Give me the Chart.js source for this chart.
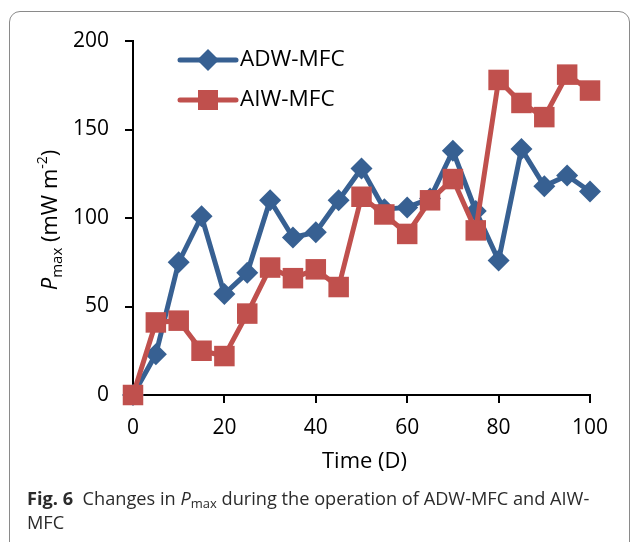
<!DOCTYPE html>
<html>
<head>
<meta charset="utf-8">
<script src="https://cdn.jsdelivr.net/npm/chart.js@4.4.0/dist/chart.umd.min.js"></script>
<style>
  html, body { margin: 0; padding: 0; background: #fff; width: 632px; height: 542px; overflow: hidden; }
  #frame { position: absolute; left: 9px; top: 11px; width: 621px; height: 600px;
           border: 1.5px solid #8a8a8a; border-radius: 11px; box-sizing: border-box; }
  #c { position: absolute; left: 0; top: 0; }
  #cap { position: absolute; left: 27px; top: 486px; width: 600px; color: #2b2b2b;
         font-family: 'Open Sans', sans-serif; font-size: 18.2px; line-height: 24px; }
  #cap b { font-weight: 700; }
  #cap sub { font-size: 13px; vertical-align: -3px; line-height: 0; }
</style>
</head>
<body>
<div id="frame"></div>
<canvas id="c" width="632" height="542"></canvas>
<div id="cap"><b>Fig. 6</b>&nbsp; Changes in <i>P</i><sub>max</sub> during the operation of ADW-MFC and AIW-<br>MFC</div>
<script>
// days of operation
var days = [0, 5, 10, 15, 20, 25, 30, 35, 40, 45, 50, 55, 60, 65, 70, 75, 80, 85, 90, 95, 100];
// Pmax, mW m-2
var adw = [0, 23, 75, 101, 57, 69, 110, 89, 92, 110, 128, 105, 106, 111, 138, 104, 76, 139, 118, 124, 115];
var aiw = [0, 41, 42, 25, 22, 46, 72, 66, 71, 61, 112, 102, 91, 110, 122, 93, 178, 165, 157, 181, 172];
var xTicks = [0, 20, 40, 60, 80, 100];
var yTicks = [0, 50, 100, 150, 200];

var BLUE = '#376092';
var RED = '#c0504d';

function pts(ys) {
  return days.map(function (d, i) { return { x: d, y: ys[i] }; });
}

// legend + axis titles drawn by hand (sub/superscripts, marker on the line)
var extras = {
  id: 'extras',
  afterDraw: function (chart) {
    var ctx = chart.ctx, a = chart.chartArea;
    ctx.save();
    // legend
    var items = [
      { label: 'ADW-MFC', color: BLUE, shape: 'diamond', y: 60 },
      { label: 'AIW-MFC', color: RED, shape: 'square', y: 100 }
    ];
    items.forEach(function (it) {
      ctx.strokeStyle = it.color;
      ctx.lineWidth = 5;
      ctx.lineCap = 'round';
      ctx.beginPath();
      ctx.moveTo(180, it.y);
      ctx.lineTo(236, it.y);
      ctx.stroke();
      ctx.fillStyle = it.color;
      ctx.beginPath();
      if (it.shape === 'diamond') {
        ctx.moveTo(208, it.y - 11); ctx.lineTo(219, it.y); ctx.lineTo(208, it.y + 11); ctx.lineTo(197, it.y);
        ctx.closePath();
      } else {
        ctx.rect(198, it.y - 10, 20, 20);
      }
      ctx.fill();
      ctx.fillStyle = '#000';
      ctx.font = '22.5px "Open Sans"';
      ctx.textBaseline = 'middle';
      ctx.textAlign = 'left';
      ctx.fillText(it.label, 240, it.y);
    });

    // x title
    ctx.font = '22px "Open Sans"';
    ctx.textAlign = 'center';
    ctx.textBaseline = 'middle';
    ctx.fillStyle = '#000';
    ctx.fillText('Time (D)', (a.left + a.right) / 2 + 3, 462);

    // y title, rotated
    var parts = [
      { t: 'P', f: 'italic 22px "Open Sans"', dy: 0 },
      { t: 'max', f: '15px "Open Sans"', dy: 5 },
      { t: ' (mW m', f: '22px "Open Sans"', dy: 0 },
      { t: '-2', f: '14px "Open Sans"', dy: -10 },
      { t: ')', f: '22px "Open Sans"', dy: 0 }
    ];
    var total = 0;
    parts.forEach(function (p) { ctx.font = p.f; p.w = ctx.measureText(p.t).width; total += p.w; });
    ctx.translate(57, (a.top + a.bottom) / 2 + 2);
    ctx.rotate(-Math.PI / 2);
    ctx.textAlign = 'left';
    ctx.textBaseline = 'alphabetic';
    var x = -total / 2;
    parts.forEach(function (p) { ctx.font = p.f; ctx.fillText(p.t, x, p.dy); x += p.w; });
    ctx.restore();
  }
};

new Chart(document.getElementById('c'), {
  type: 'line',
  data: {
    datasets: [
      {
        label: 'ADW-MFC', data: pts(adw), order: 1,
        borderColor: BLUE, backgroundColor: BLUE, borderWidth: 5,
        pointStyle: 'rectRot', pointRadius: 11, pointBorderWidth: 0,
        pointBackgroundColor: BLUE, tension: 0, clip: false
      },
      {
        label: 'AIW-MFC', data: pts(aiw), order: 0,
        borderColor: RED, backgroundColor: RED, borderWidth: 5,
        pointStyle: 'rect', pointRadius: 14.5, pointBorderWidth: 0,
        pointBackgroundColor: RED, tension: 0, clip: false
      }
    ]
  },
  options: {
    responsive: false,
    animation: false,
    devicePixelRatio: 1,
    layout: { padding: { left: 0, right: 42, top: 41, bottom: 0 } },
    plugins: { legend: { display: false }, tooltip: { enabled: false } },
    scales: {
      x: {
        type: 'linear', min: 0, max: 100,
        afterFit: function (s) { s.height = 147; },
        afterBuildTicks: function (s) { s.ticks = xTicks.map(function (v) { return { value: v }; }); },
        border: { display: true, color: '#000', width: 2 },
        grid: { drawOnChartArea: false, drawTicks: true, tickLength: 8, color: '#000', lineWidth: 2 },
        ticks: { color: '#000', font: { family: 'Open Sans', size: 21 }, padding: 12, maxRotation: 0 }
      },
      y: {
        min: 0, max: 200,
        afterFit: function (s) { s.width = 133; },
        afterBuildTicks: function (s) { s.ticks = yTicks.map(function (v) { return { value: v }; }); },
        border: { display: true, color: '#000', width: 2 },
        grid: { drawOnChartArea: false, drawTicks: true, tickLength: 8, color: '#000', lineWidth: 2 },
        ticks: { color: '#000', font: { family: 'Open Sans', size: 21 }, padding: 16 }
      }
    }
  },
  plugins: [extras]
});
</script>
</body>
</html>
